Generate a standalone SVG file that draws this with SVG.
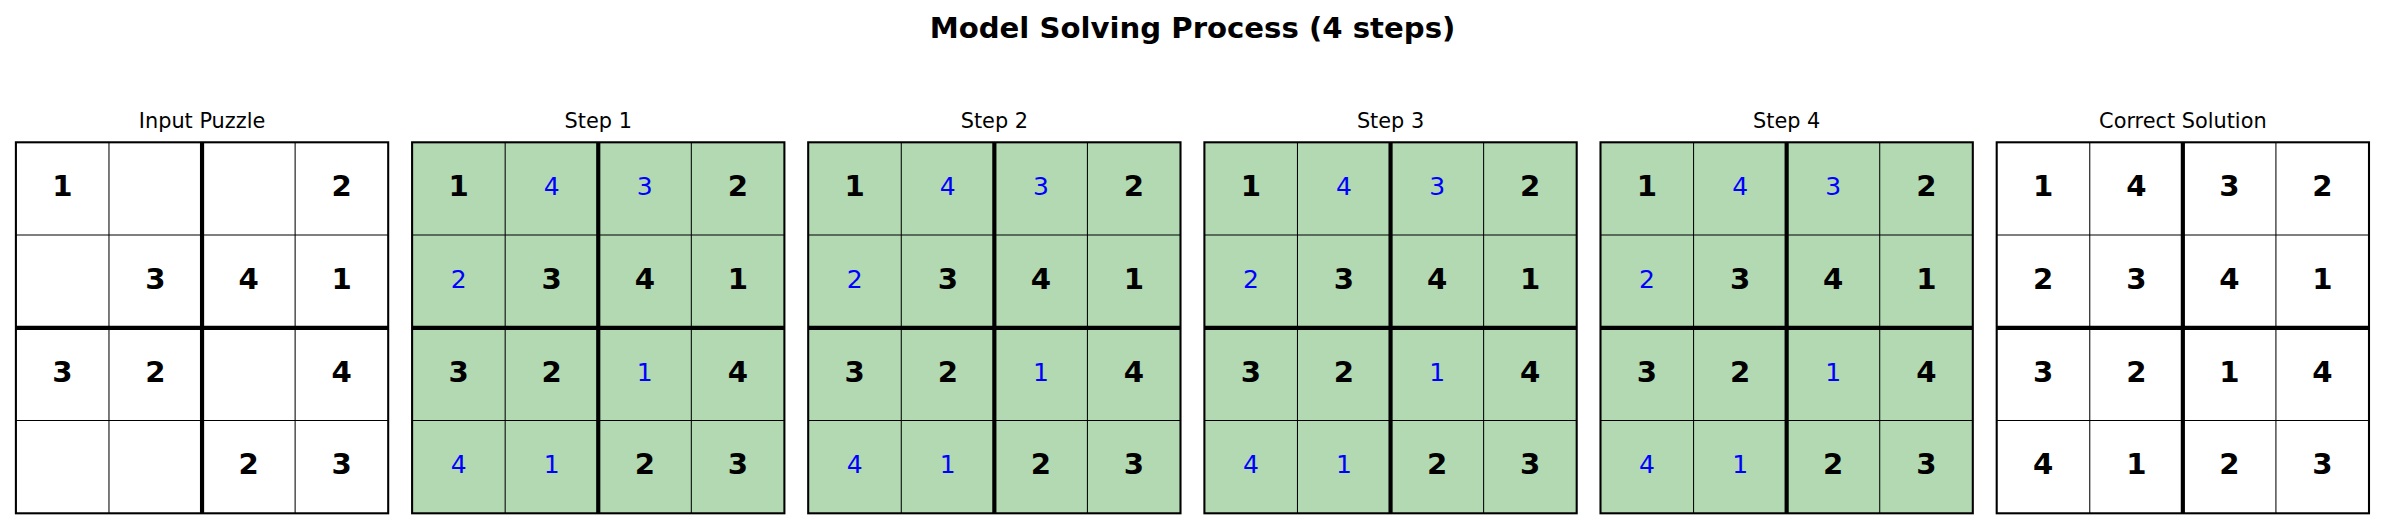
<svg xmlns="http://www.w3.org/2000/svg" xmlns:xlink="http://www.w3.org/1999/xlink" width="2385" height="530" viewBox="0 0 2385 530">
<style>
text{font-family:"DejaVu Sans","Liberation Sans",sans-serif}
.title{font-size:29.17px;font-weight:bold;text-anchor:middle;fill:#000}
.sub{font-size:20.83px;text-anchor:middle;fill:#000}
.g{font-size:29.17px;font-weight:bold;text-anchor:middle;fill:#000}
.p{font-size:25px;text-anchor:middle;fill:#0000ff}
.thin{stroke:#000;stroke-width:1.04}
.thick{stroke:#000;stroke-width:4.17}
.border{fill:none;stroke:#000;stroke-width:2.08}
.white{fill:#ffffff}
.green{fill:#b2d9b2}
</style>
<defs>
<g id="lines">
<line class="thin" x1="93.07" y1="0" x2="93.07" y2="371"/>
<line class="thin" x1="279.22" y1="0" x2="279.22" y2="371"/>
<line class="thin" x1="0" y1="92.75" x2="372.3" y2="92.75"/>
<line class="thin" x1="0" y1="278.25" x2="372.3" y2="278.25"/>
<line class="thick" x1="186.15" y1="0" x2="186.15" y2="371"/>
<line class="thick" x1="0" y1="185.5" x2="372.3" y2="185.5"/>
<rect class="border" x="0" y="0" width="372.3" height="371"/>
</g>
</defs>
<text class="title" x="1192.5" y="37.5">Model Solving Process (4 steps)</text>

<g id="input-puzzle">
<text class="sub" x="202.05" y="128.3">Input Puzzle</text>
<g transform="translate(15.9,142.3)">
<rect class="white" x="0" y="0" width="372.3" height="371"/>
<use xlink:href="#lines"/>
<text class="g" x="46.5" y="54">1</text>
<text class="g" x="325.8" y="54">2</text>
<text class="g" x="139.6" y="146.7">3</text>
<text class="g" x="232.7" y="146.7">4</text>
<text class="g" x="325.8" y="146.7">1</text>
<text class="g" x="46.5" y="239.5">3</text>
<text class="g" x="139.6" y="239.5">2</text>
<text class="g" x="325.8" y="239.5">4</text>
<text class="g" x="232.7" y="332.2">2</text>
<text class="g" x="325.8" y="332.2">3</text>
</g>
</g>

<g id="step-1">
<text class="sub" x="598.25" y="128.3">Step 1</text>
<g transform="translate(412.1,142.3)">
<rect class="green" x="0" y="0" width="372.3" height="371"/>
<use xlink:href="#lines"/>
<text class="g" x="46.5" y="54">1</text>
<text class="p" x="139.6" y="52.9">4</text>
<text class="p" x="232.7" y="52.9">3</text>
<text class="g" x="325.8" y="54">2</text>
<text class="p" x="46.5" y="145.6">2</text>
<text class="g" x="139.6" y="146.7">3</text>
<text class="g" x="232.7" y="146.7">4</text>
<text class="g" x="325.8" y="146.7">1</text>
<text class="g" x="46.5" y="239.5">3</text>
<text class="g" x="139.6" y="239.5">2</text>
<text class="p" x="232.7" y="238.4">1</text>
<text class="g" x="325.8" y="239.5">4</text>
<text class="p" x="46.5" y="331.1">4</text>
<text class="p" x="139.6" y="331.1">1</text>
<text class="g" x="232.7" y="332.2">2</text>
<text class="g" x="325.8" y="332.2">3</text>
</g>
</g>

<g id="step-2">
<text class="sub" x="994.35" y="128.3">Step 2</text>
<g transform="translate(808.2,142.3)">
<rect class="green" x="0" y="0" width="372.3" height="371"/>
<use xlink:href="#lines"/>
<text class="g" x="46.5" y="54">1</text>
<text class="p" x="139.6" y="52.9">4</text>
<text class="p" x="232.7" y="52.9">3</text>
<text class="g" x="325.8" y="54">2</text>
<text class="p" x="46.5" y="145.6">2</text>
<text class="g" x="139.6" y="146.7">3</text>
<text class="g" x="232.7" y="146.7">4</text>
<text class="g" x="325.8" y="146.7">1</text>
<text class="g" x="46.5" y="239.5">3</text>
<text class="g" x="139.6" y="239.5">2</text>
<text class="p" x="232.7" y="238.4">1</text>
<text class="g" x="325.8" y="239.5">4</text>
<text class="p" x="46.5" y="331.1">4</text>
<text class="p" x="139.6" y="331.1">1</text>
<text class="g" x="232.7" y="332.2">2</text>
<text class="g" x="325.8" y="332.2">3</text>
</g>
</g>

<g id="step-3">
<text class="sub" x="1390.55" y="128.3">Step 3</text>
<g transform="translate(1204.4,142.3)">
<rect class="green" x="0" y="0" width="372.3" height="371"/>
<use xlink:href="#lines"/>
<text class="g" x="46.5" y="54">1</text>
<text class="p" x="139.6" y="52.9">4</text>
<text class="p" x="232.7" y="52.9">3</text>
<text class="g" x="325.8" y="54">2</text>
<text class="p" x="46.5" y="145.6">2</text>
<text class="g" x="139.6" y="146.7">3</text>
<text class="g" x="232.7" y="146.7">4</text>
<text class="g" x="325.8" y="146.7">1</text>
<text class="g" x="46.5" y="239.5">3</text>
<text class="g" x="139.6" y="239.5">2</text>
<text class="p" x="232.7" y="238.4">1</text>
<text class="g" x="325.8" y="239.5">4</text>
<text class="p" x="46.5" y="331.1">4</text>
<text class="p" x="139.6" y="331.1">1</text>
<text class="g" x="232.7" y="332.2">2</text>
<text class="g" x="325.8" y="332.2">3</text>
</g>
</g>

<g id="step-4">
<text class="sub" x="1786.65" y="128.3">Step 4</text>
<g transform="translate(1600.5,142.3)">
<rect class="green" x="0" y="0" width="372.3" height="371"/>
<use xlink:href="#lines"/>
<text class="g" x="46.5" y="54">1</text>
<text class="p" x="139.6" y="52.9">4</text>
<text class="p" x="232.7" y="52.9">3</text>
<text class="g" x="325.8" y="54">2</text>
<text class="p" x="46.5" y="145.6">2</text>
<text class="g" x="139.6" y="146.7">3</text>
<text class="g" x="232.7" y="146.7">4</text>
<text class="g" x="325.8" y="146.7">1</text>
<text class="g" x="46.5" y="239.5">3</text>
<text class="g" x="139.6" y="239.5">2</text>
<text class="p" x="232.7" y="238.4">1</text>
<text class="g" x="325.8" y="239.5">4</text>
<text class="p" x="46.5" y="331.1">4</text>
<text class="p" x="139.6" y="331.1">1</text>
<text class="g" x="232.7" y="332.2">2</text>
<text class="g" x="325.8" y="332.2">3</text>
</g>
</g>

<g id="correct-solution">
<text class="sub" x="2182.85" y="128.3">Correct Solution</text>
<g transform="translate(1996.7,142.3)">
<rect class="white" x="0" y="0" width="372.3" height="371"/>
<use xlink:href="#lines"/>
<text class="g" x="46.5" y="54">1</text>
<text class="g" x="139.6" y="54">4</text>
<text class="g" x="232.7" y="54">3</text>
<text class="g" x="325.8" y="54">2</text>
<text class="g" x="46.5" y="146.7">2</text>
<text class="g" x="139.6" y="146.7">3</text>
<text class="g" x="232.7" y="146.7">4</text>
<text class="g" x="325.8" y="146.7">1</text>
<text class="g" x="46.5" y="239.5">3</text>
<text class="g" x="139.6" y="239.5">2</text>
<text class="g" x="232.7" y="239.5">1</text>
<text class="g" x="325.8" y="239.5">4</text>
<text class="g" x="46.5" y="332.2">4</text>
<text class="g" x="139.6" y="332.2">1</text>
<text class="g" x="232.7" y="332.2">2</text>
<text class="g" x="325.8" y="332.2">3</text>
</g>
</g>
</svg>
